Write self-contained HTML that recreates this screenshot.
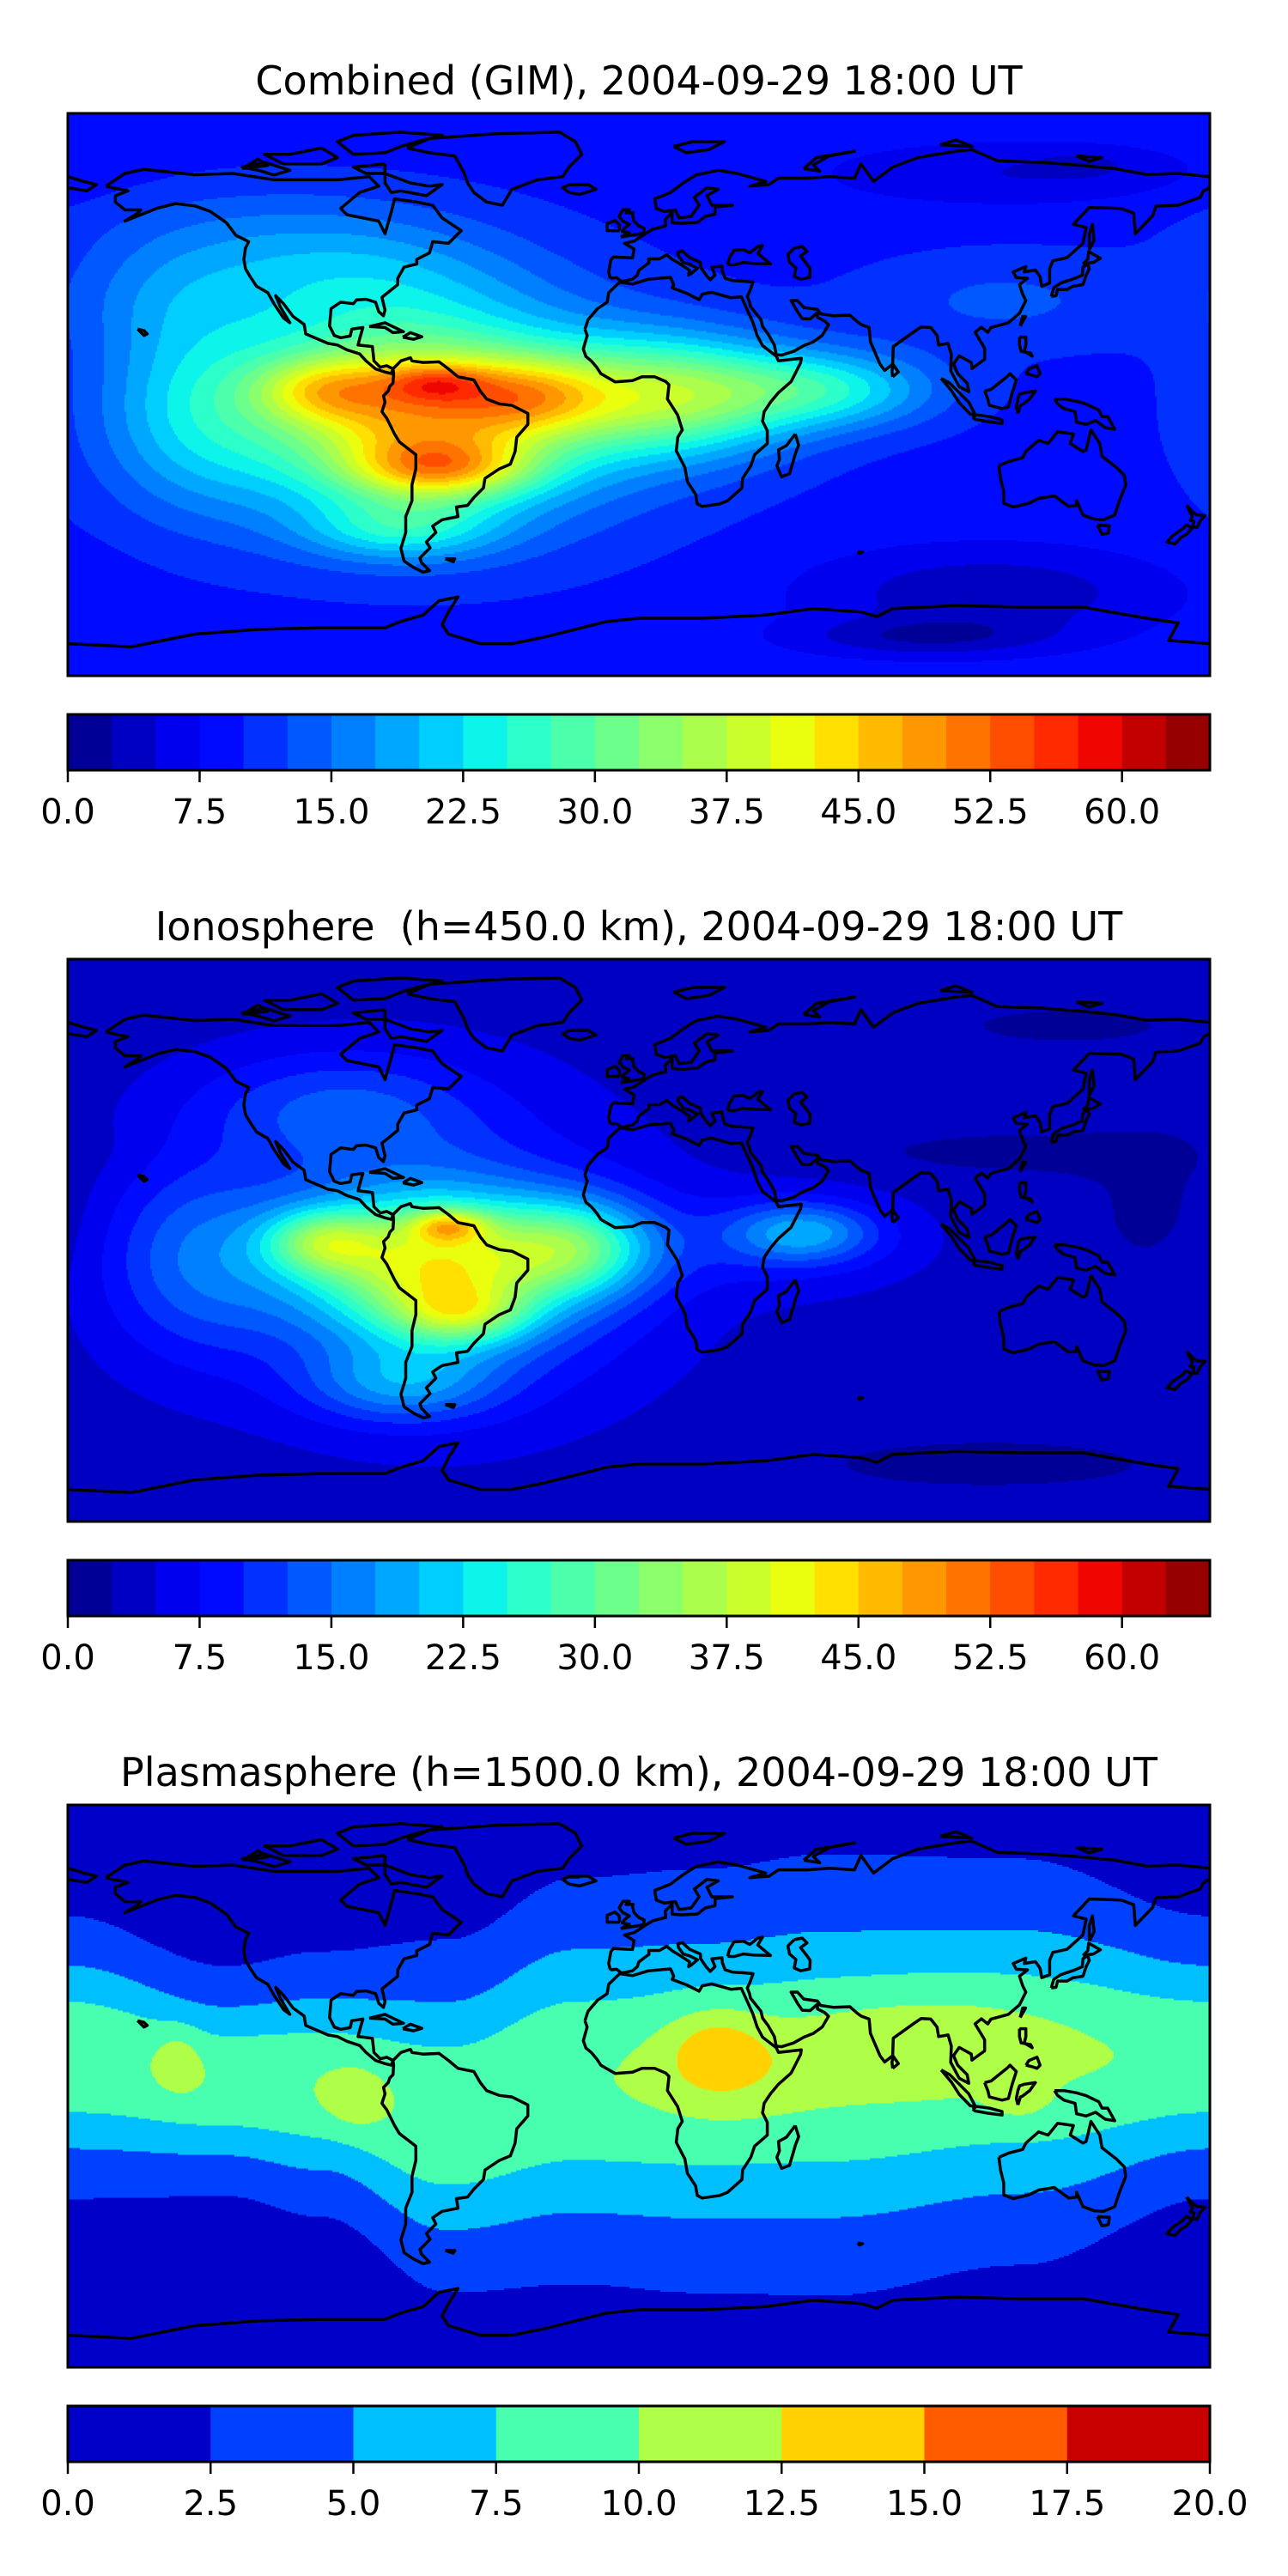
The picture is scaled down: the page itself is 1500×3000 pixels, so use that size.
<!DOCTYPE html>
<html><head><meta charset="utf-8">
<style>
html,body{margin:0;padding:0;background:#fff;width:1500px;height:3000px;overflow:hidden}
#root{position:relative;width:1500px;height:3000px}
canvas{position:absolute;image-rendering:pixelated}
svg{position:absolute;left:0;top:0}
text{font-family:"DejaVu Sans","Liberation Sans",sans-serif;fill:#000}
</style></head>
<body>
<div id="root">
<canvas id="c0"></canvas>
<canvas id="c1"></canvas>
<canvas id="c2"></canvas>
<svg id="ov" width="1500" height="3000"></svg>
</div>
<script>
// ---------- data ----------
const panelTitles = ["Combined (GIM), 2004-09-29 18:00 UT","Ionosphere  (h=450.0 km), 2004-09-29 18:00 UT","Plasmasphere (h=1500.0 km), 2004-09-29 18:00 UT"];
const levelStep = [2.5,2.5,2.5];
const levelMax = [65,65,20];
const tickLabels0 = ["0.0","7.5","15.0","22.5","30.0","37.5","45.0","52.5","60.0"];
const tickLabels2 = ["0.0","2.5","5.0","7.5","10.0","12.5","15.0","17.5","20.0"];
const tickValues0 = [0,7.5,15,22.5,30,37.5,45,52.5,60];
const tickValues2 = [0,2.5,5,7.5,10,12.5,15,17.5,20];

// Combined field: base + gaussian blobs (lon, lat, sigmaLon, sigmaLat, amplitude TECU)
const combBase = 9;
const combLon  = [-70,-70,-64,-62,-100,10,60,115,110,90,120,140,-35,-140,-95,-75,-150,-120];
const combLat  = [-5,-5,4,-23,2,0,2,30,-62,-76,70,73,0,-5,38,-42,30,55];
const combSLon = [70,38,16,28,22,40,35,45,55,40,60,15,25,30,55,30,30,60];
const combSLat = [35,24,6,9,10,18,12,15,14,6,10,4,12,30,18,10,20,15];
const combAmp  = [20,17,11,18,13,22,13,4,-6,-5.5,-4,-2,14,8,8,10,4,3];

// Ionosphere field
const ionoBase = 3.8;
const ionoLon  = [-65,-65,-60,-56,-100,52,45,-20,-140,-95,-75,-60,135,120,165,110];
const ionoLat  = [-8,-8,5,-23,0,3,0,-2,-5,42,-45,-5,68,28,10,-70];
const ionoSLon = [55,35,12,20,18,22,40,25,30,45,30,70,40,60,25,70];
const ionoSLat = [32,20,5,9,10,9,15,15,30,18,12,60,7,8,25,10];
const ionoAmp  = [15,20,15,13,16,11,5,18,9,8,10,2.7,-2,-2,-2,-2];

// Plasmasphere: latitude band + blobs
const plasBase = 1.3;
const plasBandAmp = 8.3;
const plasKnotLon    = [-180,-130,-100,-60,-20,20,60,120,180];
const plasKnotCenter = [9.5,2,1,-9,2,2,4,8,9.5];
const plasKnotWidth  = [32,26,30,40,46,48,50,46,32];
const plasLon  = [24,90,-145,-90,120,30];
const plasLat  = [12,15,9,-4,-4,5];
const plasSLon = [15,45,7,10,10,30];
const plasSLat = [13,17,10,10,7,16];
const plasAmp  = [3.6,2.6,2.2,2.2,1.8,1.8];

// coastlines (lon,lat)
const coasts = [
[[-168,66],[-162,70],[-156,71.3],[-140,69.6],[-128,70],[-115,68],[-95,68],[-85,69],[-82,66],[-88,64],[-94,59],[-92,57],[-82,55],[-80,51],[-78,58],[-77,62],[-70,61],[-65,60],[-62,56],[-56,52],[-60,48],[-65,48.5],[-66,45],[-70,43],[-70,41.5],[-74,40.5],[-76,37],[-76,35],[-81,31],[-80,27],[-80.5,25.2],[-82,26.5],[-83,29.5],[-86,30.4],[-89,30.2],[-90,29],[-94,29.5],[-97,27.5],[-97.5,22],[-96,19],[-94,18.3],[-91,18.8],[-90.5,21],[-87,21.5],[-88,18],[-88.5,16],[-84,15.5],[-83.5,11],[-81.5,9],[-79.5,9.5],[-77.5,8.5],[-78,7],[-80,7.5],[-83,8.5],[-86,11],[-88,13.2],[-92,14.5],[-95,16],[-98,16.5],[-105,19.5],[-105.5,22.5],[-109,25],[-112,29],[-114.5,31.5],[-113,28],[-110,23],[-112,24.5],[-115,29],[-117,32.5],[-120.5,34.5],[-122.5,37.5],[-124,40],[-124.5,43],[-124,46.5],[-123,48.5],[-127,50.5],[-130,54.5],[-135,58],[-140,59.8],[-146,60.5],[-152,59],[-157,57],[-162,55],[-158,57.5],[-157,58.5],[-162,58.5],[-165,61],[-165,63],[-161,64.5],[-166,65.5],[-168,66]],
[[-73,78],[-66,81],[-45,82.5],[-25,83],[-20,80],[-18,76],[-22,72],[-24,69],[-32,68],[-40,65],[-43,60],[-48,61],[-52,64],[-54,67],[-55,70],[-58,75.5],[-66,76.5],[-73,78]],
[[-80,73],[-90,72],[-86,70],[-80,70],[-72,67],[-66,66],[-62,66.5],[-67,63],[-75,64.5],[-78,64],[-80,67],[-80,73]],
[[-90,76],[-80,76.5],[-75,78.5],[-70,80],[-62,82],[-75,83],[-90,82],[-95,80],[-90,76]],
[[-100,78],[-110,76],[-118,76],[-112,73],[-100,73],[-95,75],[-100,78]],
[[-120,71],[-125,72],[-118,73.5],[-110,71],[-115,69.5],[-120,71]],
[[-125,71.5],[-120,74.5],[-117,72.5],[-125,71.5]],
[[-85,21.8],[-80,23],[-74.2,20.2],[-77.5,19.9],[-80,21.5],[-85,21.8]],
[[-74.4,18.5],[-72,19.9],[-68.4,18.6],[-71,17.8],[-74.4,18.5]],
[[-77.5,8.5],[-75,11],[-72,12],[-71.5,11],[-68,10.5],[-63,10.7],[-60,8.5],[-57,6],[-52,5],[-50,1.5],[-48,-1],[-44,-2.5],[-40,-3],[-35,-5.5],[-35,-9],[-38.5,-13],[-39,-17.5],[-40.5,-21.5],[-44,-23],[-48.5,-26],[-49,-29],[-52,-32],[-54,-34.5],[-57.5,-35],[-57,-38],[-62,-39],[-65,-41],[-64,-43],[-67,-46],[-65.8,-47.8],[-69,-51],[-68.5,-52.5],[-66,-55],[-68,-55.5],[-71,-54],[-74,-52],[-75,-48],[-73.5,-43],[-73.5,-38],[-71.5,-33],[-71.5,-28],[-70.3,-23],[-70.3,-18.5],[-75.5,-14.5],[-77,-12],[-79.5,-7],[-81,-5],[-80,-2],[-80.5,0],[-79,1.5],[-78.5,3],[-77.5,4],[-77.3,7],[-77.5,8.5]],
[[-61,-51.3],[-58,-51.3],[-58.5,-52.2],[-61,-51.3]],
[[-17,21],[-16,24],[-13,27.5],[-10,29.5],[-9.5,32.5],[-6,35.8],[-2,35.2],[3,36.7],[10,37.3],[11,35],[10.5,34],[15,32.3],[19,30.3],[20,32],[23,32.6],[29,30.9],[32.3,31.2],[34,27.5],[36,23],[37.3,19],[39,15.8],[43.3,12.5],[44,11],[51.2,11.8],[51,10.4],[48,4.5],[44,1],[41.5,-2],[39.5,-5],[39,-8],[40.5,-11],[40.5,-15],[36.5,-18.5],[35.3,-22],[32.7,-26],[32.5,-29],[28,-33],[25.6,-34],[20,-34.8],[18.4,-34],[17.9,-31],[15.3,-27],[14.5,-22.5],[11.8,-17.3],[12.3,-13],[13.7,-10.7],[12.2,-6],[9,-1],[9.5,3.5],[8.5,4.5],[5,6],[1,6],[-2,4.8],[-7.5,4.4],[-12,7],[-13.3,9],[-15,11],[-16.7,12.4],[-17.5,14.7],[-16.3,19],[-17,21]],
[[49.3,-12],[50.4,-15.5],[49.4,-18],[47.5,-24.5],[45,-25.5],[43.5,-22],[44.3,-20],[44,-17],[46.5,-15.7],[49.3,-12]],
[[-9,37],[-9.5,39],[-8.8,42.8],[-8,43.7],[-2,43.4],[-1.5,46.2],[-4.5,48],[-1.5,48.7],[2,51],[4.5,52.5],[8.5,53.5],[8.3,55.5],[10.5,57.7],[10.5,54.5],[13.5,54.3],[18.5,54.6],[21,56.5],[24,57.2],[24,59.4],[29.5,60],[23,60],[21.5,63],[25,65],[21.5,65.5],[17.5,62.5],[19,60],[16.5,56.5],[12.7,56],[11.5,58.5],[8,58],[5.5,59],[5,62],[10,64],[14,67],[18,69.5],[25,71],[31,70],[40,67.5],[35,66],[41,66.5],[44,68.5],[53,68.5],[60,69],[68,68.5],[70,73],[74,67.5],[80,72],[88,75],[100,77],[105,77.5],[113,74],[127,73.5],[140,72.5],[150,71.5],[160,69.7],[170,70],[180,69],[180,65.5],[178,64.5],[177,62.5],[170,60],[163,59.7],[162,56.7],[156.5,51],[156,57.5],[152,59],[142,59.3],[137,54],[141,53],[140,48],[135,43.5],[130.5,42.5],[129.5,40],[129.5,35.5],[127,34.5],[126.5,37.5],[125,39.6],[121.5,39],[122,40.7],[118,39],[119,37.2],[122.5,37],[120,35],[121,32],[122,30],[120,26],[116.5,23],[111,21.5],[110,20],[108,21.6],[106,20],[109,15],[109,11.5],[105,8.6],[104.8,10.5],[101,12.6],[99.2,10],[100.5,7],[103.5,4],[104,1.3],[101,2.9],[98.3,7.9],[98.5,13],[97.5,16.5],[94.5,16],[94,19],[92,21.5],[89,21.7],[86.5,20],[80.2,15.5],[80,10],[77.5,8],[76,10],[73,17],[72.6,21.5],[70,22.5],[68.7,23.5],[66.5,25.4],[61.5,25.2],[57.3,25.8],[56.3,27.2],[52,27.8],[50,30],[48,30],[50,26.5],[51.5,24.3],[54,24.2],[56.3,26.2],[56.3,24.7],[58.5,23.6],[59.8,22.4],[57.8,19],[55,17],[52,15.8],[48.8,14],[45,12.8],[43.3,13],[42.7,16],[40.7,19.5],[39,21.8],[38.5,24],[35.2,28.1],[34.9,29.5],[34.2,31.3],[35,33],[36,35.8],[32.5,36.1],[29.5,36.3],[27.2,37],[26.3,39.3],[26.2,40.8],[23,40.5],[24,38],[22.5,36.5],[21.2,38],[19.5,40.5],[19.4,42],[16,43.5],[13.7,45.6],[12.3,45.2],[12.5,44],[14,42],[16,41.4],[18.5,40.2],[16.5,38.5],[15.7,38],[16,39.5],[15,40.2],[12.5,41.8],[10.5,43],[8.8,44.4],[6.5,43.1],[3.1,43.1],[3.2,41.9],[0,39.5],[-0.5,38],[-2,36.7],[-5.5,36],[-7,37.2],[-9,37]],
[[28,41.3],[28.6,43.5],[30,45.8],[33,46],[35,45],[37.5,47],[39,47.3],[37.5,44.8],[41.5,41.5],[36,41.7],[33,42],[30,41.2],[28,41.3]],
[[49,46.5],[51.5,47],[53,45.5],[51,44],[52.7,41.8],[54,40],[53.9,37.3],[51,36.7],[49,37.6],[49.5,40.3],[47.5,42],[47,44.5],[49,46.5]],
[[-5.7,50],[1.5,51.2],[1.7,52.7],[0,53.5],[-1.5,55],[-2,57],[-1.8,57.6],[-4,57.6],[-3,58.6],[-5,58.6],[-6.2,56.5],[-5,55],[-3,54],[-4.5,52.8],[-5.2,51.7],[-3,51.4],[-5.7,50]],
[[-6,52],[-6.2,54],[-7.5,55.2],[-10,54.2],[-10,52],[-6,52]],
[[-22,64],[-24,65.5],[-22,66.4],[-16,66.5],[-13.5,65],[-18.7,63.4],[-22,64]],
[[11,78.5],[17,80],[27,80],[22,77.5],[15,76.5],[11,78.5]],
[[52,71.5],[56,75],[68,77],[60,75.5],[55,72.7],[57,70.7],[52,71.5]],
[[95,79],[105,78.5],[100,80.5],[95,79]],
[[138,75.5],[146,75],[142,73.8],[138,75.5]],
[[130,31.3],[131.5,31.5],[132,33.5],[135,33.5],[136.8,34.5],[140,35],[141,38],[142,40],[141.5,41.5],[140,40.5],[139.8,38],[137,36.8],[133,35.5],[130.8,34],[130,31.3]],
[[140,41.5],[141.5,43],[141.8,45.4],[145.5,43.3],[143.3,42],[140,41.5]],
[[142,46],[143.5,49],[143,54],[142,51],[142,46]],
[[80,6],[81.8,7.5],[80.2,9.8],[79.8,8],[80,6]],
[[120.2,22],[121.9,25],[121,25],[120.2,22]],
[[95.3,5.5],[98,4],[104,-2],[106,-5.8],[104.5,-5.8],[101,-2.2],[98.5,1.7],[95.3,5.5]],
[[105.2,-6.8],[106.5,-6],[110.5,-6.5],[114.5,-7.6],[114.5,-8.7],[110,-8.1],[106,-7.4],[105.2,-6.8]],
[[109,1.5],[110,-1],[110.5,-3],[114.5,-4],[116.5,-3.5],[117.7,1],[119,5],[117,7],[116,6],[113.5,4],[111,2],[109,1.5]],
[[119.5,-5.5],[120.3,-3],[121,-2.7],[123.2,-1],[125,1.5],[121.5,1],[120,0.5],[119.5,-1],[119,-3.5],[119.5,-5.5]],
[[131,-1],[134,-1],[138,-1.7],[141,-2.6],[145,-4.5],[146,-6.5],[147.8,-6.5],[150,-10.5],[147,-10],[144,-7.8],[141,-9],[138,-8.3],[137.5,-5],[134,-4],[132,-2.5],[131,-1]],
[[120,18.5],[122,18.5],[122,16],[121.5,14],[124,12.5],[123.5,13.5],[120.5,14],[120,16],[120,18.5]],
[[122,7],[123,8.5],[125.5,9.5],[126.5,7],[125.5,6],[124,6.5],[122,7]],
[[113.5,-22],[114,-26],[115,-30],[115,-33.8],[118,-35],[123,-33.8],[126,-32.3],[131,-31.5],[135.5,-34.8],[138,-34.5],[138,-33],[140,-37.5],[143.5,-38.8],[146.5,-39],[150,-37.5],[151.5,-33],[153.5,-28],[153,-25],[150.5,-22.5],[146,-19],[145.3,-15],[142.5,-10.7],[141.5,-15],[141,-17],[140,-17.5],[136,-15],[137,-12],[132,-11.3],[129,-15],[126,-14],[122,-17.5],[121,-19.5],[116.5,-20.7],[113.5,-22]],
[[144.6,-40.7],[148.3,-40.9],[148,-43.2],[146,-43.6],[144.6,-40.7]],
[[172.7,-34.5],[174.5,-36.5],[176,-37.5],[178.5,-37.7],[177,-39.3],[176,-41.5],[174.6,-41.3],[175,-39.5],[173.8,-39.2],[174.5,-38],[172.7,-34.5]],
[[172.7,-40.5],[174.3,-41.7],[172.8,-43.5],[171,-44.5],[169,-46.6],[166.5,-46],[168.3,-44],[171.5,-41.8],[172.7,-40.5]],
[[-158,21],[-156,20.5],[-155,19.5],[-156,19],[-158,21]],
[[69,-49],[70.5,-49.2],[69.5,-49.6],[69,-49]],
[[-180,69],[-175,67.5],[-171,66.5],[-174,64.5],[-180,65.5]],
[[-180,-78],[-160,-79],[-150,-77],[-140,-75],[-120,-73.5],[-100,-73],[-80,-73],[-75,-71],[-68,-69],[-63,-64.5],[-57,-63.3],[-60,-68],[-62,-72],[-60,-75],[-50,-78],[-40,-78],[-30,-76],[-20,-73.5],[-10,-71],[0,-70],[20,-70],[40,-69],[55,-67],[70,-68],[75,-69.5],[80,-67],[100,-66],[120,-66.5],[140,-66.5],[160,-70],[170,-71.5],[167,-77],[180,-78]]
];

// ---------- layout ----------
const MX=79, MW=1330, MH=655, PITCH=985, MY0=132;
const CBY0=832, CBH=65;
const SVGNS="http://www.w3.org/2000/svg";
const ov=document.getElementById('ov');

function jetc(x,pts){for(let i=1;i<pts.length;i++){if(x<=pts[i][0]){const a=pts[i-1],b=pts[i];return a[1]+(b[1]-a[1])*(x-a[0])/(b[0]-a[0]);}}return pts[pts.length-1][1];}
function jet(x){
 const r=jetc(x,[[0,0],[0.35,0],[0.66,1],[0.89,1],[1,0.5]]);
 const g=jetc(x,[[0,0],[0.125,0],[0.375,1],[0.64,1],[0.91,0],[1,0]]);
 const b=jetc(x,[[0,0.5],[0.11,1],[0.34,1],[0.65,0],[1,0]]);
 return [Math.round(r*255),Math.round(g*255),Math.round(b*255)];
}
function wrap(d){while(d>180)d-=360;while(d<-180)d+=360;return d;}
function blobs(lon,lat,base,L,A,SL,SA,AM){let v=base;for(let i=0;i<L.length;i++){const dl=wrap(lon-L[i])/SL[i],da=(lat-A[i])/SA[i];v+=AM[i]*Math.exp(-dl*dl-da*da);}return v;}
function knot(lon,vals){for(let i=1;i<plasKnotLon.length;i++){if(lon<=plasKnotLon[i]){let t=(lon-plasKnotLon[i-1])/(plasKnotLon[i]-plasKnotLon[i-1]);t=(1-Math.cos(Math.PI*t))/2;return vals[i-1]+t*(vals[i]-vals[i-1]);}}return vals[vals.length-1];}
function fieldVal(p,lon,lat){
 if(p===0) return blobs(lon,lat,combBase,combLon,combLat,combSLon,combSLat,combAmp);
 if(p===1) return blobs(lon,lat,ionoBase,ionoLon,ionoLat,ionoSLon,ionoSLat,ionoAmp);
 const c=knot(lon,plasKnotCenter),w=knot(lon,plasKnotWidth);const d=(lat-c)/w;
 return blobs(lon,lat,plasBase+plasBandAmp*Math.exp(-d*d),plasLon,plasLat,plasSLon,plasSLat,plasAmp);
}
const EQ=329, LATS=3.7;
function lonX(lon){return MX+(lon+180)/360*MW;}
function latY(lat,p){return MY0+p*PITCH+EQ-lat*LATS;}
function el(tag,attrs,parent){const e=document.createElementNS(SVGNS,tag);for(const k in attrs)e.setAttribute(k,attrs[k]);(parent||ov).appendChild(e);return e;}

for(let p=0;p<3;p++){
 const nb=Math.round(levelMax[p]/levelStep[p]);
 const cols=[];for(let i=0;i<nb;i++)cols.push(jet((i+0.5)/nb));
 const cv=document.getElementById('c'+p);
 const RW=665, RH=328;
 cv.width=RW;cv.height=RH;
 cv.style.left=MX+'px';cv.style.top=(MY0+p*PITCH)+'px';cv.style.width=MW+'px';cv.style.height=MH+'px';
 const ctx=cv.getContext('2d');const img=ctx.createImageData(RW,RH);
 for(let j=0;j<RH;j++){const lat=(EQ-(j+0.5)/RH*MH)/LATS;
  for(let i=0;i<RW;i++){const lon=-180+(i+0.5)/RW*360;
   let k=Math.floor(fieldVal(p,lon,lat)/levelStep[p]);k=Math.max(0,Math.min(nb-1,k));
   const c=cols[k],o=(j*RW+i)*4;img.data[o]=c[0];img.data[o+1]=c[1];img.data[o+2]=c[2];img.data[o+3]=255;}}
 ctx.putImageData(img,0,0);

 const g=el('g',{});
 
 
 const oy=p*PITCH;
 const t=el('text',{x:744,y:110+oy,'text-anchor':'middle','font-size':46,style:'white-space:pre'},g);
 t.textContent=panelTitles[p];
 
 
 const cid='clip'+p;
 const cp=el('clipPath',{id:cid},g);el('rect',{x:MX,y:MY0+oy,width:MW,height:MH},cp);
 const cg=el('g',{'clip-path':'url(#'+cid+')'},g);
 
 
 coasts.forEach(poly=>{
  let d='';poly.forEach((pt,i)=>{d+=(i?'L':'M')+lonX(pt[0]).toFixed(1)+' '+latY(pt[1],p).toFixed(1);});
  const path=el('path',{d:d,fill:'none',stroke:'#000','stroke-width':3.5,'stroke-linejoin':'round'},cg);
  
  
 });
 const fr=el('rect',{x:MX,y:MY0+oy,width:MW,height:MH,fill:'none',stroke:'#000','stroke-width':3},g);
 
 
 const cb=el('g',{},g);
 
 
 const bw=MW/nb;
 for(let i=0;i<nb;i++){const c=cols[i];
  const r=el('rect',{x:MX+i*bw,y:CBY0+oy,width:bw+0.6,height:CBH,fill:'rgb('+c.join(',')+')'},cb);
  
  }
 el('rect',{x:MX,y:CBY0+oy,width:MW,height:CBH,fill:'none',stroke:'#000','stroke-width':3},cb);
 const tv=p===2?tickValues2:tickValues0, tl=p===2?tickLabels2:tickLabels0;
 tv.forEach((v,i)=>{const x=MX+v/levelMax[p]*MW;
  el('line',{x1:x,x2:x,y1:CBY0+CBH+oy,y2:CBY0+CBH+oy+14,stroke:'#000','stroke-width':2.5},cb);
  const tx=el('text',{x:x,y:959+oy,'text-anchor':'middle','font-size':40},cb);
  tx.textContent=tl[i];
  
  
 });
}
</script>
</body></html>
